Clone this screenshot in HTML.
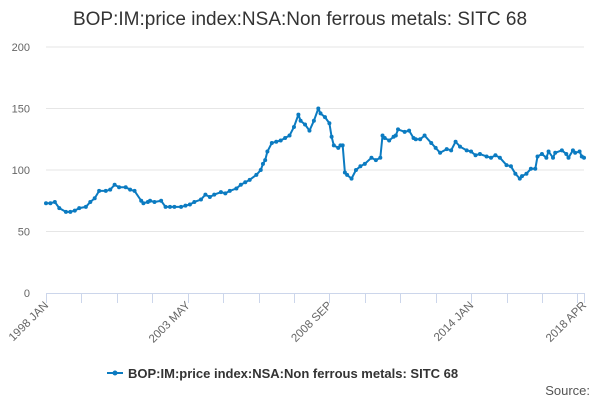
<!DOCTYPE html>
<html><head><meta charset="utf-8"><style>
body{margin:0;background:#fff;}
svg{font-family:"Liberation Sans",sans-serif;}
</style></head><body>
<svg id="chart" width="600" height="400">
<text x="300" y="25" text-anchor="middle" font-size="19" fill="#333">BOP:IM:price index:NSA:Non ferrous metals: SITC 68</text>
<g id="grid"></g><g id="axes"></g><g id="series"></g>
<g>
<line x1="107" y1="373" x2="123" y2="373" stroke="#0b7bc1" stroke-width="2"/>
<circle cx="115" cy="373" r="2.5" fill="#0b7bc1"/>
<text x="128" y="378" font-size="13" font-weight="bold" fill="#333">BOP:IM:price index:NSA:Non ferrous metals: SITC 68</text>
</g>
<text x="590" y="395" text-anchor="end" font-size="13" fill="#555">Source:</text>
</svg>
<script>
const monthIdx=[0,2,4,6,9,11,13,15,18,20,22,24,27,29,31,33,36,38,40,43,44,46,47,49,52,54,56,58,61,63,65,67,70,72,74,76,79,81,83,86,88,90,92,95,97,98,99,100,102,104,106,108,110,112,114,115,117,119,121,123,124,126,128,129,130,132,133,134,135,136,138,140,142,144,147,149,151,152,153,155,157,158,159,162,164,166,167,169,171,174,176,178,181,183,185,187,190,192,194,196,199,201,203,205,208,210,212,214,215,217,219,221,222,224,226,227,229,230,233,235,236,238,239,241,242,243];
const values=[73,73,74,69,66,66,67,69,70,74,77,83,83,84,88,86,86,84,83,75,73,74,75,74,75,70,70,70,70,71,72,74,76,80,78,80,82,81,83,85,88,90,92,96,100,105,108,115,122,123,124,126,128,135,145,140,137,132,140,150,146,143,138,127,120,118,120,120,98,96,93,100,103,105,110,108,110,128,126,124,127,128,133,131,132,126,125,125,128,122,118,114,117,116,123,119,116,115,112,113,111,110,112,110,104,103,97,93,95,97,101,101,111,113,110,115,110,114,116,113,110,116,114,115,111,110];
const yTicks=[0,50,100,150,200];
const xLabels=["1998 JAN","2003 MAY","2008 SEP","2014 JAN","2018 APR"];
const xLabelIdx=[0,64,128,192,243];
const X0=46,X1=584,Y0=293,Y1=47,N=243;
const xs=i=>X0+i*(X1-X0)/N, ys=v=>Y0-v*(Y0-Y1)/200;
const NS="http://www.w3.org/2000/svg";
function mk(t,a,p){const e=document.createElementNS(NS,t);for(const k in a)e.setAttribute(k,a[k]);p.appendChild(e);return e;}
const grid=document.getElementById('grid'),axes=document.getElementById('axes'),ser=document.getElementById('series');
yTicks.forEach(v=>{
 if(v>0){const g=mk('line',{x1:X0,x2:X1,y1:ys(v),y2:ys(v),stroke:'#e6e6e6'},grid);
 
 }
 const t=mk('text',{x:30,y:ys(v)+4,'text-anchor':'end','font-size':11,fill:'#666'},axes);t.textContent=v;
 
 
});
const ax=mk('line',{x1:X0,x2:X1,y1:Y0+0.5,y2:Y0+0.5,stroke:'#ccd6eb'},axes);


const tickIdx=[];for(let m=0;m<=N;m+=16)tickIdx.push(m);tickIdx.push(N);
tickIdx.forEach(m=>{const x=Math.round(xs(m))+0.5;const tk=mk('line',{x1:x,x2:x,y1:Y0,y2:Y0+10,stroke:'#ccd6eb'},axes);
 
 });
xLabels.forEach((s,j)=>{const x=xs(xLabelIdx[j]);const t=mk('text',{x:x+3,y:Y0+13,'text-anchor':'end','font-size':11.5,fill:'#666',transform:`rotate(-45 ${x+3} ${Y0+13})`},axes);t.textContent=s;
 
 });
const pts=monthIdx.map((m,i)=>xs(m)+','+ys(values[i])).join(' ');
const pl=mk('polyline',{points:pts,fill:'none',stroke:'#0b7bc1','stroke-width':2,'stroke-linejoin':'round'},ser);


monthIdx.forEach((m,i)=>{const c=mk('circle',{cx:xs(m),cy:ys(values[i]),r:2,fill:'#0b7bc1'},ser);
 
 });
</script>
</body></html>
